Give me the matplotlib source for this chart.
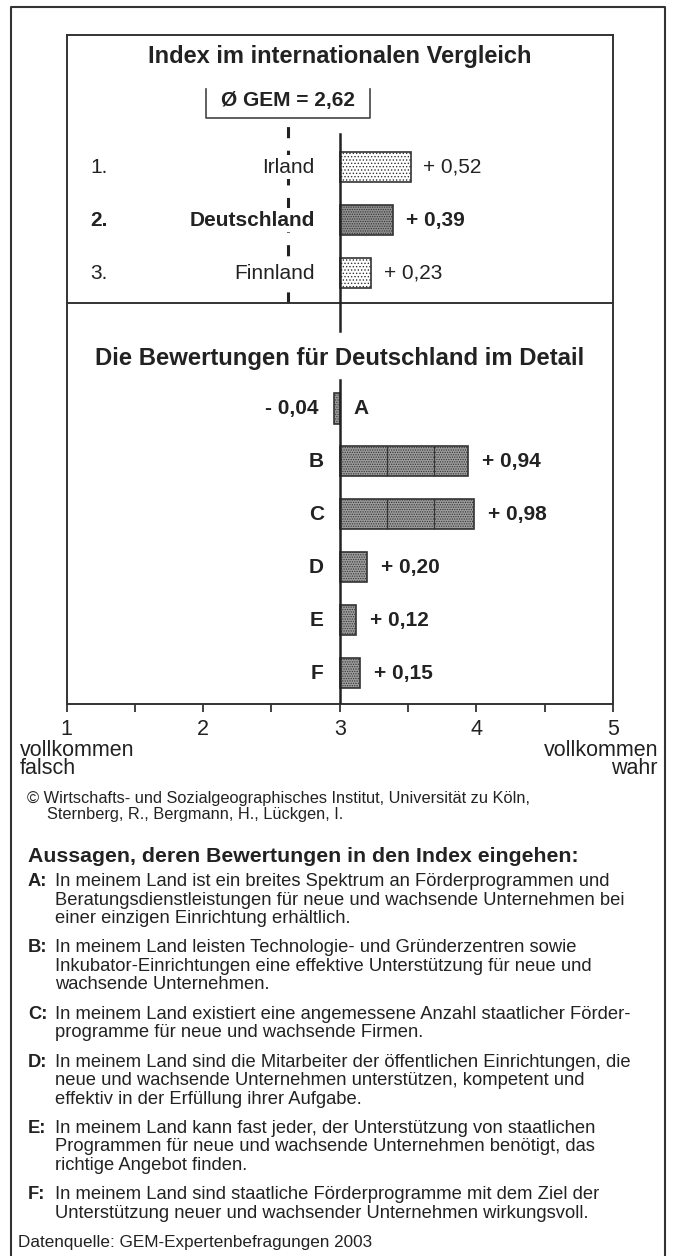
import matplotlib
matplotlib.use("Agg")
import matplotlib.pyplot as plt
from matplotlib.lines import Line2D
import numpy as np

plt.rcParams['font.family'] = ['Liberation Sans', 'DejaVu Sans']
plt.rcParams['hatch.linewidth'] = 0.6
plt.rcParams['lines.scale_dashes'] = False

# data
top_ranks = ["1.", "2.", "3."]
top_countries = ["Irland", "Deutschland", "Finnland"]
top_values = [0.52, 0.39, 0.23]
top_bold = [False, True, False]
gem_mean = 2.62
baseline = 3.0

detail_items = ["A", "B", "C", "D", "E", "F"]
detail_values = [-0.04, 0.94, 0.98, 0.20, 0.12, 0.15]

scale_ticks = [1, 2, 3, 4, 5]
scale_minor = [1.5, 2.5, 3.5, 4.5]

statements = {
    "A": ["In meinem Land ist ein breites Spektrum an Förderprogrammen und",
          "Beratungsdienstleistungen für neue und wachsende Unternehmen bei",
          "einer einzigen Einrichtung erhältlich."],
    "B": ["In meinem Land leisten Technologie- und Gründerzentren sowie",
          "Inkubator-Einrichtungen eine effektive Unterstützung für neue und",
          "wachsende Unternehmen."],
    "C": ["In meinem Land existiert eine angemessene Anzahl staatlicher Förder-",
          "programme für neue und wachsende Firmen."],
    "D": ["In meinem Land sind die Mitarbeiter der öffentlichen Einrichtungen, die",
          "neue und wachsende Unternehmen unterstützen, kompetent und",
          "effektiv in der Erfüllung ihrer Aufgabe."],
    "E": ["In meinem Land kann fast jeder, der Unterstützung von staatlichen",
          "Programmen für neue und wachsende Unternehmen benötigt, das",
          "richtige Angebot finden."],
    "F": ["In meinem Land sind staatliche Förderprogramme mit dem Ziel der",
          "Unterstützung neuer und wachsender Unternehmen wirkungsvoll."],
}

INK = '#222222'
W, H = 675, 1256
fig = plt.figure(figsize=(W / 100, H / 100), dpi=100)


def px_text(x, y, s, **kw):
    # place text using pixel coordinates measured from the top left
    kw.setdefault('va', 'center')
    kw.setdefault('color', INK)
    return fig.text(x / W, 1 - y / H, s, **kw)


def fmt(v):
    sign = '+' if v >= 0 else '-'
    return f"{sign} {abs(v):.2f}".replace('.', ',')


# outer frame
fig.add_artist(Line2D([11 / W, 11 / W, 665 / W, 665 / W], [0, 1 - 6.7 / H, 1 - 6.7 / H, 0],
                      transform=fig.transFigure, color='#333333', lw=1.5))

box_l, box_r = 66.5, 613
top_t, sep, bot_b = 34.5, 302.7, 704
ax_top = fig.add_axes([box_l / W, 1 - sep / H, (box_r - box_l) / W, (sep - top_t) / H])
ax_bot = fig.add_axes([box_l / W, 1 - bot_b / H, (box_r - box_l) / W, (bot_b - sep) / H])

row_h = 0.57
seg_step = 0.345

for ax in (ax_top, ax_bot):
    ax.set_xlim(1, 5)
    ax.set_facecolor('none')
    for sp in ax.spines.values():
        sp.set_color('#333333')
        sp.set_linewidth(1.4)

# ---------- top panel ----------
ax_top.set_ylim(2.56, -2.5)
ax_top.set_xticks([])
ax_top.set_yticks([])

# dashed GEM mean line (drawn bottom to top)
ax_top.plot([gem_mean, gem_mean], [2.56, -0.925], color=INK, lw=2.2,
            dashes=(8, 9), clip_on=False, zorder=1)
# GEM label bracket
ax_top.plot([gem_mean - 0.6, gem_mean - 0.6, gem_mean + 0.6, gem_mean + 0.6],
            [-1.47, -0.925, -0.925, -1.47], color='#444444', lw=1.2, zorder=2)
ax_top.text(gem_mean, -1.25, f"Ø GEM = {gem_mean:.2f}".replace('.', ','),
            ha='center', va='center', fontsize=15, fontweight='bold', color=INK)
# baseline
ax_top.plot([baseline, baseline], [-0.62, 2.56], color=INK, lw=1.8, zorder=4)

for i, (rank, name, v, b) in enumerate(zip(top_ranks, top_countries, top_values, top_bold)):
    if b:
        ax_top.barh(i, v, left=baseline, height=row_h, color='#8f8f8f',
                    edgecolor='#333333', hatch='.......', lw=1.2, zorder=3)
    else:
        ax_top.barh(i, v, left=baseline, height=row_h, color='white',
                    edgecolor='#333333', hatch='.....', lw=1.2, zorder=3)
    fw = 'bold' if b else 'normal'
    ax_top.annotate(rank, xy=(1, i), xytext=(17, 0), textcoords='offset points',
                    ha='left', va='center', fontsize=15, fontweight=fw, color=INK)
    ax_top.annotate(name, xy=(baseline, i), xytext=(-18, 0), textcoords='offset points',
                    ha='right', va='center', fontsize=15, fontweight=fw, color=INK,
                    bbox=dict(fc='white', ec='none', pad=1.5), zorder=5)
    ax_top.annotate(fmt(v), xy=(baseline + v, i), xytext=(9, 0), textcoords='offset points',
                    ha='left', va='center', fontsize=15, fontweight=fw, color=INK)

# ---------- lower panel ----------
ax_bot.set_ylim(5.586, -2.0)
ax_bot.spines['top'].set_visible(False)
ax_bot.set_yticks([])
ax_bot.set_xticks(scale_ticks)
ax_bot.set_xticks(scale_minor, minor=True)
ax_bot.set_xticklabels([str(t) for t in scale_ticks], fontsize=15.5, color=INK)
ax_bot.tick_params(axis='x', which='both', direction='out', length=6, width=1.3,
                   color='#333333', pad=5)

ax_bot.plot([baseline, baseline], [-2.0, -1.465], color=INK, lw=1.8, zorder=4)
ax_bot.plot([baseline, baseline], [-0.54, 5.586], color=INK, lw=1.8, zorder=4)

for i, (item, v) in enumerate(zip(detail_items, detail_values)):
    ax_bot.barh(i, v, left=baseline, height=row_h, color='#9c9c9c',
                edgecolor='#333333', hatch='.......', lw=1.2, zorder=3)
    end = baseline + v
    marks = [baseline + seg_step * k for k in range(1, 12) if baseline + seg_step * k < end - 0.05]
    if marks:
        ax_bot.vlines(marks, i - row_h / 2, i + row_h / 2, color='#333333', lw=0.9, zorder=3)
    if v >= 0:
        ax_bot.annotate(item, xy=(baseline, i), xytext=(-11.5, 0), textcoords='offset points',
                        ha='right', va='center', fontsize=15, fontweight='bold', color=INK)
        ax_bot.annotate(fmt(v), xy=(end, i), xytext=(10, 0), textcoords='offset points',
                        ha='left', va='center', fontsize=15, fontweight='bold', color=INK)
    else:
        ax_bot.annotate(item, xy=(baseline, i), xytext=(10, 0), textcoords='offset points',
                        ha='left', va='center', fontsize=15, fontweight='bold', color=INK)
        ax_bot.annotate(fmt(v), xy=(end, i), xytext=(-11.5, 0), textcoords='offset points',
                        ha='right', va='center', fontsize=15, fontweight='bold', color=INK)

# ---------- titles and texts ----------
mid = (box_l + box_r) / 2
px_text(mid, 57, "Index im internationalen Vergleich", ha='center', fontsize=17, fontweight='bold')
px_text(mid, 358, "Die Bewertungen für Deutschland im Detail", ha='center', fontsize=17.2, fontweight='bold')

px_text(20, 750, "vollkommen", ha='left', fontsize=15.5)
px_text(20, 769, "falsch", ha='left', fontsize=15.5)
px_text(658, 750, "vollkommen", ha='right', fontsize=15.5)
px_text(658, 769, "wahr", ha='right', fontsize=15.5)

px_text(27, 798, "© Wirtschafts- und Sozialgeographisches Institut, Universität zu Köln,", ha='left', fontsize=11.8)
px_text(47, 814, "Sternberg, R., Bergmann, H., Lückgen, I.", ha='left', fontsize=11.8)

px_text(28, 857, "Aussagen, deren Bewertungen in den Index eingehen:", ha='left', fontsize=15.3, fontweight='bold')

y = 881.7
for key in detail_items:
    px_text(28, y, key + ":", ha='left', fontsize=13.2, fontweight='bold')
    for line in statements[key]:
        px_text(55, y, line, ha='left', fontsize=13.2)
        y += 18.4
    y += 11.1

px_text(18, 1242.7, "Datenquelle: GEM-Expertenbefragungen 2003", ha='left', fontsize=12.3)

fig.savefig("out.png", dpi=100)
